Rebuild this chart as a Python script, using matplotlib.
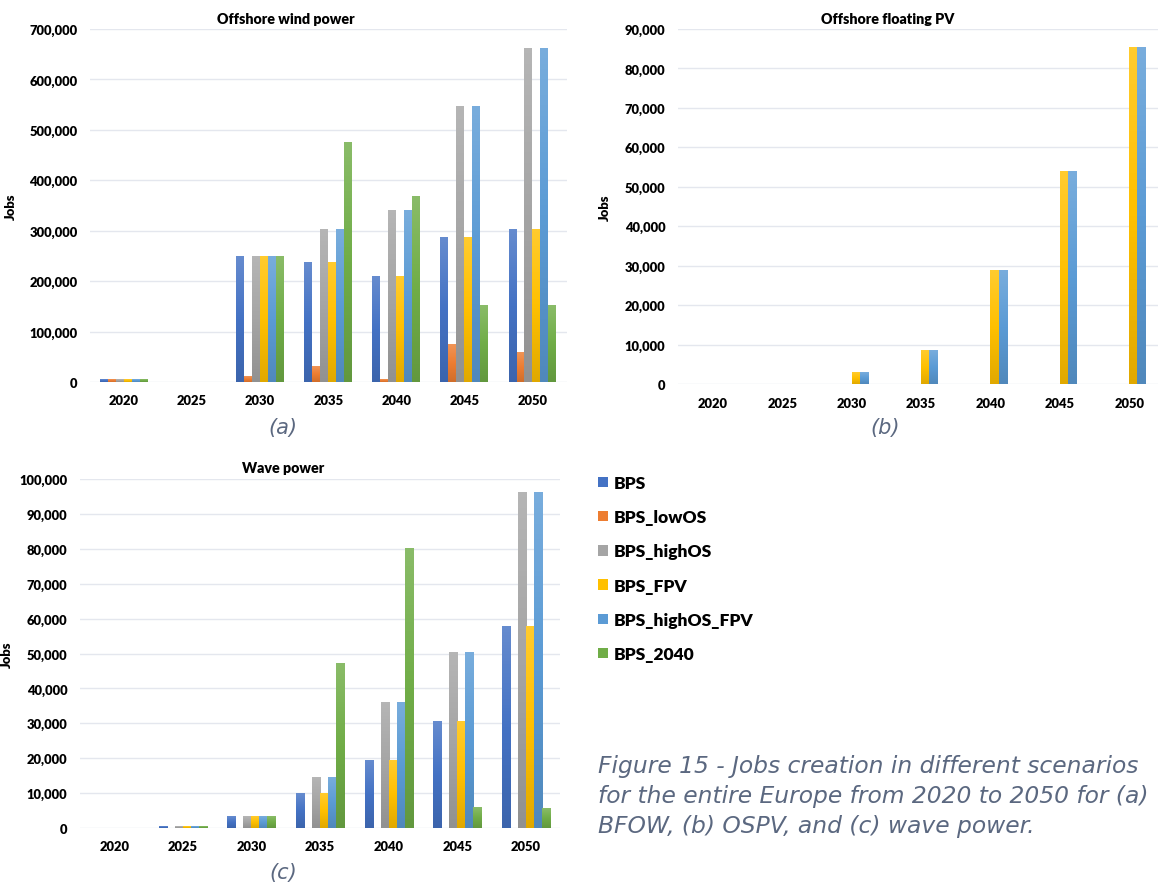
import numpy as np
import matplotlib
matplotlib.use("Agg")
import matplotlib.pyplot as plt
from matplotlib.colors import LinearSegmentedColormap, to_rgb
from matplotlib.ticker import FuncFormatter

years = ["2020", "2025", "2030", "2035", "2040", "2045", "2050"]
scenarios = ["BPS", "BPS_lowOS", "BPS_highOS", "BPS_FPV", "BPS_highOS_FPV", "BPS_2040"]
colors = ["#4472C4", "#ED7D31", "#A5A5A5", "#FFC000", "#5B9BD5", "#70AD47"]

# offshore wind power, jobs per scenario
wind_bps = [4000, 0, 248000, 236000, 210000, 287000, 303000]
wind_low = [4000, 0, 10000, 31000, 4000, 74000, 58000]
wind_high = [4000, 0, 248000, 302000, 341000, 546000, 661000]
wind_fpv = [4000, 0, 248000, 236000, 210000, 287000, 303000]
wind_high_fpv = [4000, 0, 248000, 302000, 341000, 546000, 661000]
wind_2040 = [4000, 0, 248000, 475000, 368000, 151000, 151000]

# offshore floating PV (only the FPV scenarios have any)
pv_bps = [0, 0, 0, 0, 0, 0, 0]
pv_low = [0, 0, 0, 0, 0, 0, 0]
pv_high = [0, 0, 0, 0, 0, 0, 0]
pv_fpv = [0, 0, 3000, 8500, 28700, 54000, 85400]
pv_high_fpv = [0, 0, 3000, 8500, 28700, 54000, 85400]
pv_2040 = [0, 0, 0, 0, 0, 0, 0]

# wave power
wave_bps = [0, 500, 3300, 10000, 19200, 30400, 57700]
wave_low = [0, 0, 0, 0, 0, 0, 0]
wave_high = [0, 500, 3300, 14600, 36000, 50300, 96200]
wave_fpv = [0, 500, 3300, 10000, 19200, 30400, 57700]
wave_high_fpv = [0, 500, 3300, 14600, 36000, 50300, 96200]
wave_2040 = [0, 500, 3300, 47200, 80100, 6000, 5600]

W, H = 1158, 887
fig = plt.figure(figsize=(W / 100, H / 100), dpi=100)

tick_font = dict(family="Lato", weight="heavy", size=9.4)
caption_color = "#5b6880"


def shade(c, f):
    r = np.array(to_rgb(c))
    if f > 0:
        return tuple(r + (1 - r) * f)
    return tuple(r * (1 + f))


def panel(rect, series, ymax, step, title, title_x, tag, tag_x, tag_y):
    ax = fig.add_axes([rect[0] / W, 1 - rect[3] / H,
                       (rect[1] - rect[0]) / W, (rect[3] - rect[2]) / H])
    x = np.arange(len(years))
    w = 0.117
    bars = []
    for i, (vals, col) in enumerate(zip(series, colors)):
        b = ax.bar(x + (i - 2.5) * w, vals, w, color=col, label=scenarios[i],
                   linewidth=0, zorder=2)
        bars.append(b)
        # vertical gradient fill, light at the top
        cmap = LinearSegmentedColormap.from_list("g", [shade(col, -0.12), col, shade(col, 0.18)])
        for p in b.patches:
            if p.get_height() > 0:
                ax.imshow(np.linspace(0, 1, 64).reshape(-1, 1), extent=[p.get_x(), p.get_x() + p.get_width(), 0, p.get_height()],
                          origin="lower", aspect="auto", cmap=cmap, zorder=3)
    ax.set_xlim(-0.5, len(years) - 0.5)
    ax.set_ylim(0, ymax)
    ax.set_yticks(np.arange(0, ymax + 1, step))
    ax.yaxis.set_major_formatter(FuncFormatter(lambda v, _: f"{int(v):,}"))
    ax.set_xticks(x)
    ax.set_xticklabels(years)
    for lab in ax.get_xticklabels() + ax.get_yticklabels():
        lab.set_fontproperties(matplotlib.font_manager.FontProperties(**tick_font))
    ax.tick_params(axis="both", length=0)
    ax.tick_params(axis="y", pad=9)
    ax.tick_params(axis="x", pad=9)
    ax.grid(axis="y", color="#e4e7ee", linewidth=1, zorder=0)
    for s in ax.spines.values():
        s.set_visible(False)
    ax.set_ylabel("Jobs", fontdict=tick_font)
    ax.yaxis.set_label_coords((17 - rect[0]) / (rect[1] - rect[0]), 0.5)
    fig.text(title_x / W, 1 - (rect[2] - 11) / H, title, ha="center", va="center",
             family="Lato", weight="heavy", size=10.3)
    fig.text(tag_x / W, 1 - tag_y / H, tag, ha="center", va="center",
             family="DejaVu Sans", style="oblique", size=15, color=caption_color)
    return ax, bars


ax_a, bars_a = panel((90, 566.5, 30, 383),
                     [wind_bps, wind_low, wind_high, wind_fpv, wind_high_fpv, wind_2040],
                     700000, 100000, "Offshore wind power", 286, "(a)", 283, 428)
ax_b, _ = panel((678, 1164, 30, 385),
                [pv_bps, pv_low, pv_high, pv_fpv, pv_high_fpv, pv_2040],
                90000, 10000, "Offshore floating PV", 888, "(b)", 885, 428)
ax_b.yaxis.set_label_coords((611 - 678) / (1164 - 678), 0.5)
ax_c, _ = panel((80, 560, 480, 829),
                [wave_bps, wave_low, wave_high, wave_fpv, wave_high_fpv, wave_2040],
                100000, 10000, "Wave power", 283, "(c)", 283, 873)
ax_c.yaxis.set_label_coords((13 - 80) / (560 - 80), 0.5)

fig.legend(handles=bars_a, labels=scenarios, loc="upper left",
           bbox_to_anchor=(598 / W, 1 - 476 / H), frameon=False,
           borderpad=0, borderaxespad=0, handlelength=0.55, handleheight=0.55,
           handletextpad=0.35, labelspacing=1.05,
           prop=dict(family="Lato", weight="heavy", size=12.5))

fig.text(598 / W, 1 - 755 / H,
         "Figure 15 - Jobs creation in different scenarios\n"
         "for the entire Europe from 2020 to 2050 for (a)\n"
         "BFOW, (b) OSPV, and (c) wave power.",
         ha="left", va="top", family="DejaVu Sans", style="oblique", size=16.8,
         color=caption_color, linespacing=1.38)

fig.savefig("out.png", dpi=100)
